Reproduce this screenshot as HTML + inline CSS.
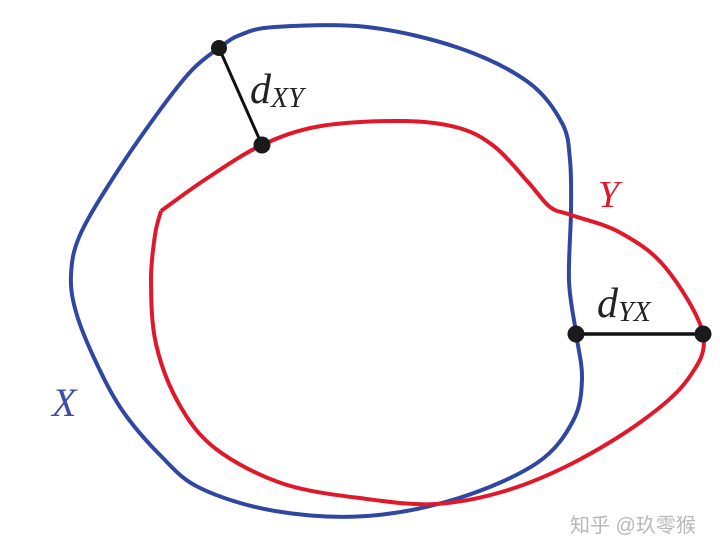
<!DOCTYPE html>
<html><head><meta charset="utf-8"><style>
html,body{margin:0;padding:0;background:#fff;width:720px;height:552px;overflow:hidden}
svg{display:block}
.t{font-family:"Liberation Serif",serif;font-style:italic}
</style></head><body>
<svg id="s" width="720" height="552" viewBox="0 0 720 552">
<path id="bx" fill="none" stroke="#2f47a0" stroke-width="4"/>
<path id="ry" fill="none" stroke="#e0182a" stroke-width="4"/>
<line x1="219" y1="48" x2="262" y2="145" stroke="#111" stroke-width="3"/>
<line x1="576" y1="334" x2="702" y2="334" stroke="#111" stroke-width="3.5"/>
<circle cx="219" cy="48" r="8" fill="#1a1a1a"/>
<circle cx="262" cy="145" r="8.5" fill="#1a1a1a"/>
<circle cx="576" cy="334" r="8.5" fill="#1a1a1a"/>
<circle cx="703" cy="334" r="8.5" fill="#1a1a1a"/>
<text class="t" x="250" y="103" font-size="42" fill="#222">d<tspan font-size="28" dy="4">XY</tspan></text>
<text class="t" x="597" y="317" font-size="42" fill="#222">d<tspan font-size="28" dy="4">YX</tspan></text>
<text class="t" x="598" y="207" font-size="38" fill="#e0182a">Y</text>
<text class="t" x="52" y="416" font-size="40" fill="#3d4ea6">X</text>
<text x="570" y="532" font-size="20" fill="#b8b8b8" font-family="'Liberation Sans','Noto Sans CJK SC',sans-serif">知乎 @玖零猴</text>
</svg>
<script>
function cr(p,closed){var n=p.length,d="M"+p[0][0]+","+p[0][1];
var g=function(i){if(closed)return p[(i+n)%n];return p[Math.max(0,Math.min(n-1,i))]};
var m=closed?n:n-1;
for(var i=0;i<m;i++){var a=g(i-1),b=g(i),c=g(i+1),e=g(i+2);
d+=" C"+(b[0]+(c[0]-a[0])/6)+","+(b[1]+(c[1]-a[1])/6)+" "+(c[0]-(e[0]-b[0])/6)+","+(c[1]-(e[1]-b[1])/6)+" "+c[0]+","+c[1];}
return d+(closed?"Z":"");}
var X=[[219,48],[240,35],[275,27],[367,27],[459,48],[528,82],[562,123],[570,160],[571,211],[569,281],[576,333],[582,379],[573,421],[537,463],[459,498],[367,516],[275,511],[200,488],[160,455],[122,410],[95,360],[76,312],[71,275],[80,235],[115,175],[160,110],[192,70]];
document.getElementById("bx").setAttribute("d",cr(X,true));
var Y=[[161,211],[206,179],[262,145],[321,126],[404,121],[459,128],[495,147],[528,182],[550,207],[571,215],[619,232],[665,267],[703,334],[688,379],[642,421],[573,463],[505,491],[436,504],[367,499],[284,484],[216,449],[179,404],[156,344],[151,281],[155,235],[161,211]];
document.getElementById("ry").setAttribute("d",cr(Y,false));
</script>
</body></html>
